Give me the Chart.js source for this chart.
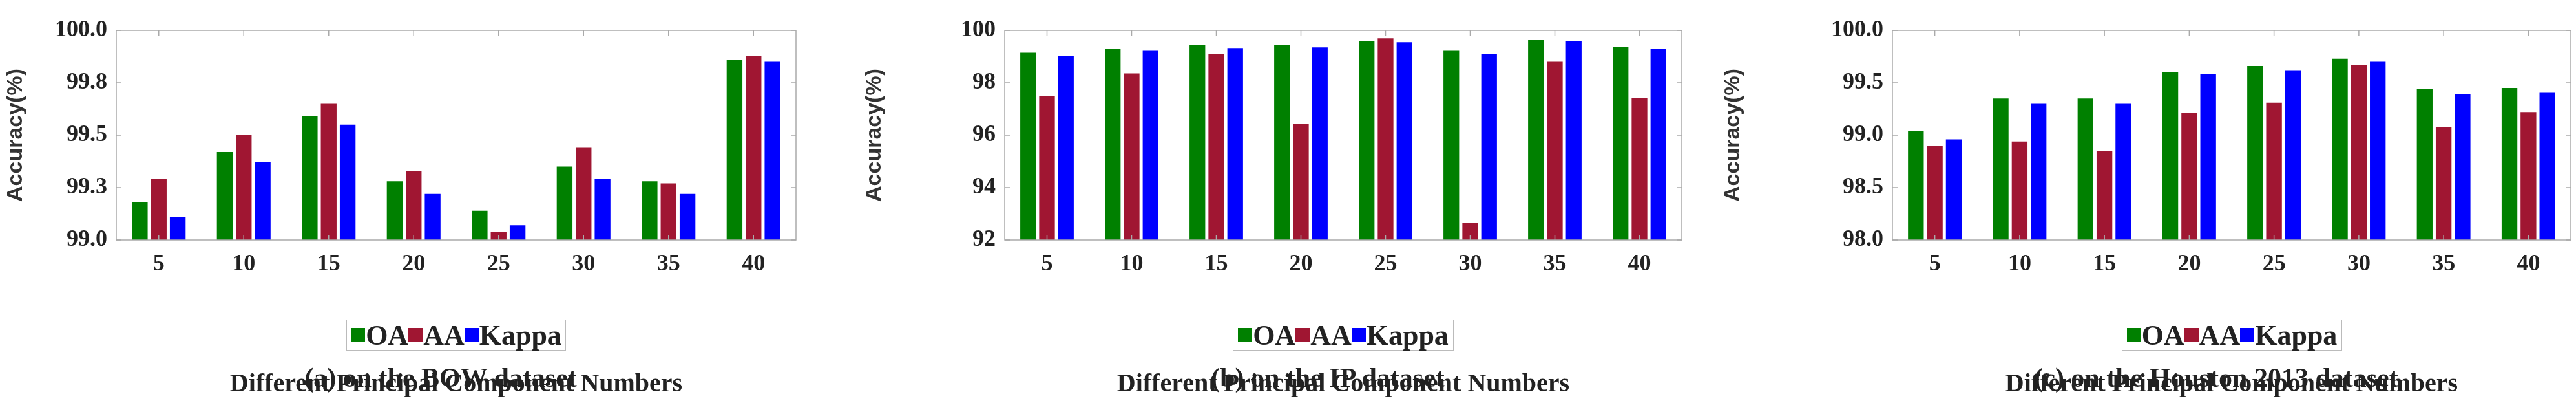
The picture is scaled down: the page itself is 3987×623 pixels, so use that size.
<!DOCTYPE html>
<html>
<head>
<meta charset="utf-8">
<script src="https://cdn.jsdelivr.net/npm/chart.js@4"></script>
<style>
body { margin: 0; background: #fff; width: 3987px; height: 623px; position: relative; overflow: hidden; font-family: "Liberation Serif", serif; font-weight: bold; color: #222; }
.panel { position: absolute; top: 0; width: 1329px; height: 623px; }
.legend { position: absolute; top: 494px; height: 48px; border: 1px solid #bbb; display: flex; align-items: center; justify-content: center; font-size: 44px; box-sizing: border-box; }
.legend span.sw { display: inline-block; width: 22px; height: 22px; margin-right: 1px; }
.caption { position: absolute; top: 560px; font-size: 42px; transform: translateX(-50%); white-space: nowrap; }
</style>
</head>
<body>
<script>
const CATEGORIES = ['5', '10', '15', '20', '25', '30', '35', '40']
const SERIES = ['OA', 'AA', 'Kappa']
const COLORS = ['rgb(0,128,0)', 'rgb(160,22,50)', 'rgb(0,0,255)']

const BOW_OA = [99.18, 99.42, 99.59, 99.28, 99.14, 99.35, 99.28, 99.86]
const BOW_AA = [99.29, 99.50, 99.65, 99.33, 99.04, 99.44, 99.27, 99.88]
const BOW_KAPPA = [99.11, 99.37, 99.55, 99.22, 99.07, 99.29, 99.22, 99.85]

const IP_OA = [99.15, 99.30, 99.43, 99.43, 99.60, 99.22, 99.63, 99.38]
const IP_AA = [97.50, 98.36, 99.10, 96.42, 99.70, 92.65, 98.80, 97.42]
const IP_KAPPA = [99.03, 99.22, 99.33, 99.35, 99.55, 99.10, 99.58, 99.30]

const HOU_OA = [99.04, 99.35, 99.35, 99.60, 99.66, 99.73, 99.44, 99.45]
const HOU_AA = [98.90, 98.94, 98.85, 99.21, 99.31, 99.67, 99.08, 99.22]
const HOU_KAPPA = [98.96, 99.30, 99.30, 99.58, 99.62, 99.70, 99.39, 99.41]

const PANELS = [
	{ left: 0, yWidth: 180, right: 97, min: 99, max: 100, step: 0.25, data: [BOW_OA, BOW_AA, BOW_KAPPA], legend: [536, 340], capX: 682, caption: '(a) on the BOW dataset' },
	{ left: 1329, yWidth: 226, right: 55, min: 92, max: 100, step: 2, data: [IP_OA, IP_AA, IP_KAPPA], legend: [1908, 342], capX: 2055, caption: '(b) on the IP dataset' },
	{ left: 2658, yWidth: 271, right: 8, min: 98, max: 100, step: 0.5, data: [HOU_OA, HOU_AA, HOU_KAPPA], legend: [3284, 341], capX: 3430, caption: '(c) on the Houston 2013 dataset' }
]

// box around the plot with small inward ticks, like the matlab figure
const frame = {
	id: 'frame',
	afterDatasetsDraw(chart) {
		const { ctx, chartArea: a, scales: { x, y } } = chart
		ctx.save()
		ctx.strokeStyle = '#aaa'
		ctx.lineWidth = 1.5
		ctx.strokeRect(a.left, a.top, a.right - a.left, a.bottom - a.top)
		ctx.beginPath()
		x.ticks.forEach((_, i) => {
			const px = x.getPixelForTick(i)
			ctx.moveTo(px, a.top); ctx.lineTo(px, a.top + 8)
			ctx.moveTo(px, a.bottom); ctx.lineTo(px, a.bottom - 8)
		})
		y.ticks.forEach((_, i) => {
			const py = y.getPixelForTick(i)
			ctx.moveTo(a.right, py); ctx.lineTo(a.right - 8, py)
			ctx.moveTo(a.left, py); ctx.lineTo(a.left + 8, py)
		})
		ctx.stroke()
		ctx.restore()
	}
}

const tickFont = { family: 'Liberation Serif', size: 36, weight: 'bold' }

PANELS.forEach(p => {
	const div = document.createElement('div')
	div.className = 'panel'
	div.style.left = p.left + 'px'
	const canvas = document.createElement('canvas')
	canvas.width = 1329
	canvas.height = 623
	div.appendChild(canvas)
	document.body.appendChild(div)

	const lg = document.createElement('div')
	lg.className = 'legend'
	lg.style.left = p.legend[0] + 'px'
	lg.style.width = p.legend[1] + 'px'
	lg.innerHTML = SERIES.map((s, i) => `<span class="sw" style="background:${COLORS[i]}"></span>${s}`).join('')
	document.body.appendChild(lg)

	const cap = document.createElement('div')
	cap.className = 'caption'
	cap.style.left = p.capX + 'px'
	cap.textContent = p.caption
	document.body.appendChild(cap)

	new Chart(canvas, {
		type: 'bar',
		data: {
			labels: CATEGORIES,
			datasets: SERIES.map((s, i) => ({ label: s, data: p.data[i], backgroundColor: COLORS[i], barPercentage: 0.83, categoryPercentage: 0.67 }))
		},
		options: {
			responsive: false,
			animation: false,
			devicePixelRatio: 1,
			layout: { padding: { top: 47, right: p.right, left: 0, bottom: 0 } },
			plugins: { legend: { display: false }, tooltip: { enabled: false } },
			scales: {
				x: {
					grid: { display: false },
					border: { display: false },
					ticks: { color: '#222', font: tickFont, padding: 8 },
					title: { display: true, text: 'Different Principal Component Numbers', color: '#222', font: { family: 'Liberation Serif', size: 40, weight: 'bold' }, padding: { top: 6 } },
					afterFit(s) { s.height = 252 }
				},
				y: {
					min: p.min,
					max: p.max,
					grid: { display: false },
					border: { display: false },
					ticks: { stepSize: p.step, color: '#222', font: tickFont, padding: 6 },
					title: { display: true, text: 'Accuracy(%)', color: '#333', font: { family: 'Liberation Sans', size: 34, weight: 'bold' } },
					afterFit(s) { s.width = p.yWidth }
				}
			}
		},
		plugins: [frame]
	})
})
</script>
</body>
</html>
